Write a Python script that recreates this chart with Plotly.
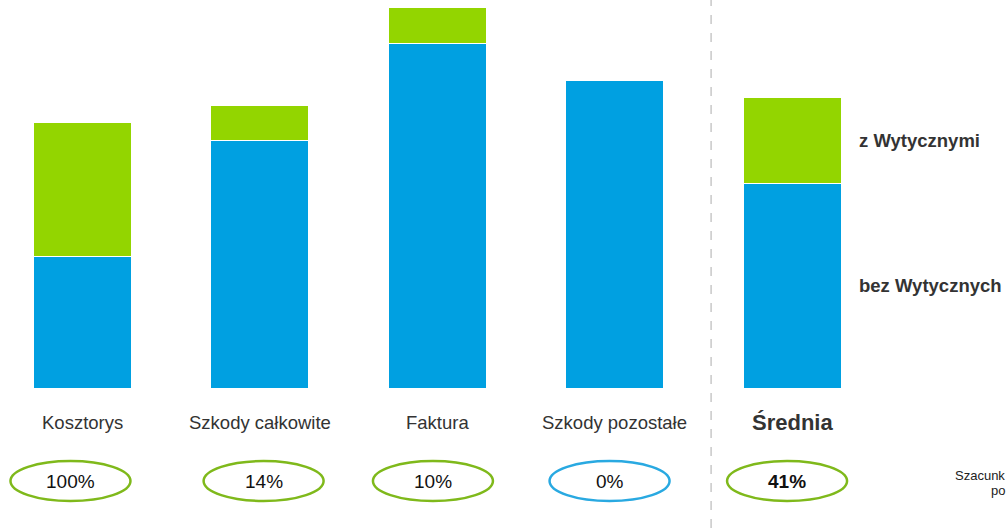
import plotly.graph_objects as go

categories = ["Kosztorys", "Szkody całkowite", "Faktura", "Szkody pozostałe", "Średnia"]
bez_wytycznych = [132, 248, 345, 308, 205]
z_wytycznymi = [134, 35, 36, 0, 86]
percent_labels = ["100%", "14%", "10%", "0%", "41%"]
legend_labels = ["z Wytycznymi", "bez Wytycznych"]
note_lines = ["Szacunk", "po"]

BLUE = "#00a0e1"
GREEN = "#93d500"
OUT_GREEN = "#7fb91b"
OUT_BLUE = "#29a9e1"
FONT = "Liberation Sans, Arial, sans-serif"

# small horizontal nudges of the percentage badges (layout, in axis units)
badge_shift = [-0.065, 0.023, -0.023, -0.028, -0.028]

x = list(range(len(categories)))

fig = go.Figure()
fig.add_trace(go.Bar(x=x, y=bez_wytycznych, marker=dict(color=BLUE, line=dict(color="white", width=1)),
                     width=0.552, hoverinfo="skip"))
fig.add_trace(go.Bar(x=x, y=z_wytycznymi, marker=dict(color=GREEN, line=dict(color="white", width=1)),
                     width=0.552, hoverinfo="skip"))

shapes = []
annotations = []
for i, (cat, pct) in enumerate(zip(categories, percent_labels)):
    last = i == len(categories) - 1
    cx = i + badge_shift[i]
    annotations.append(dict(
        x=i, y=-34, xref="x", yref="y", showarrow=False,
        text=f"<b>{cat}</b>" if last else cat,
        font=dict(family=FONT, size=22 if last else 18.5, color="#333333"),
        xanchor="center", yanchor="middle"))
    annotations.append(dict(
        x=cx, y=-93, xref="x", yref="y", showarrow=False,
        text=f"<b>{pct}</b>" if last else pct,
        font=dict(family=FONT, size=19, color="#111111"),
        xanchor="center", yanchor="middle"))
    color = OUT_BLUE if z_wytycznymi[i] == 0 else OUT_GREEN
    shapes.append(dict(type="circle", xref="x", yref="y",
                       x0=cx - 0.338, x1=cx + 0.338, y0=-113, y1=-73,
                       line=dict(color=color, width=2.5), layer="above"))

# dashed separator
shapes.append(dict(type="line", xref="x", yref="paper", x0=3.544, x1=3.544, y0=0, y1=1,
                   line=dict(color="#c8c8c8", width=1.5, dash="dash")))

annotations.append(dict(x=4.366, y=388 - 140, xref="x", yref="y", showarrow=False,
                        text=f"<b>{legend_labels[0]}</b>", xanchor="left", yanchor="middle",
                        font=dict(family=FONT, size=18.5, color="#333333")))
annotations.append(dict(x=4.366, y=388 - 285, xref="x", yref="y", showarrow=False,
                        text=f"<b>{legend_labels[1]}</b>", xanchor="left", yanchor="middle",
                        font=dict(family=FONT, size=18.5, color="#333333")))
annotations.append(dict(x=1.0, y=388 - 475, xref="paper", yref="y", showarrow=False,
                        text=note_lines[0], xanchor="right", yanchor="middle",
                        font=dict(family=FONT, size=13, color="#222222")))
annotations.append(dict(x=1.0, y=388 - 490, xref="paper", yref="y", showarrow=False,
                        text=note_lines[1], xanchor="right", yanchor="middle",
                        font=dict(family=FONT, size=13, color="#222222")))

fig.update_layout(
    width=1007, height=528,
    margin=dict(l=0, r=0, t=0, b=0),
    barmode="stack",
    showlegend=False,
    plot_bgcolor="white", paper_bgcolor="white",
    xaxis=dict(range=[-0.462, 5.211], visible=False, fixedrange=True),
    yaxis=dict(range=[-140, 388], visible=False, fixedrange=True),
    shapes=shapes,
    annotations=annotations,
)

fig.write_html("out.html", config={"displayModeBar": False})
